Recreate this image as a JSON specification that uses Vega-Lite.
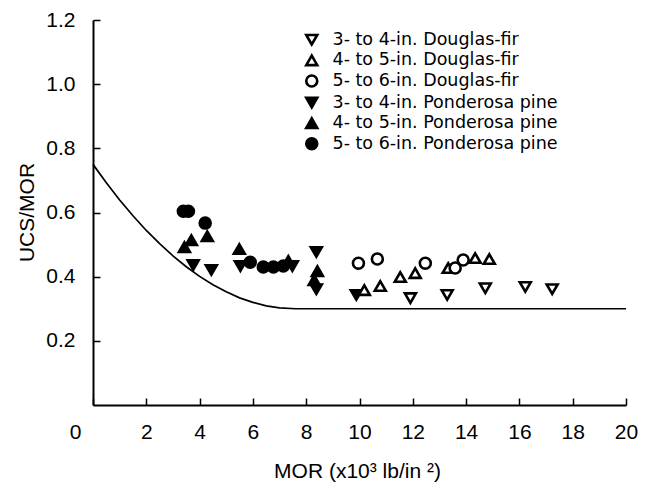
{
  "$schema": "https://vega.github.io/schema/vega-lite/v6.json",
  "autosize": {"type": "none"},
  "width": 533,
  "height": 385,
  "padding": {"left": 93, "top": 20, "right": 30, "bottom": 84},
  "background": "white",
  "config": {
    "view": {"stroke": null},
    "font": "Liberation Sans"
  },
  "datasets": {
    "curve": [
      {"mor": 0, "ratio": 0.75},
      {"mor": 0.5, "ratio": 0.693},
      {"mor": 1, "ratio": 0.639},
      {"mor": 1.5, "ratio": 0.59},
      {"mor": 2, "ratio": 0.544},
      {"mor": 2.5, "ratio": 0.503},
      {"mor": 3, "ratio": 0.465},
      {"mor": 3.5, "ratio": 0.431},
      {"mor": 4, "ratio": 0.401},
      {"mor": 4.5, "ratio": 0.375},
      {"mor": 5, "ratio": 0.353},
      {"mor": 5.5, "ratio": 0.334},
      {"mor": 6, "ratio": 0.32},
      {"mor": 6.5, "ratio": 0.309},
      {"mor": 7, "ratio": 0.303},
      {"mor": 7.6, "ratio": 0.3},
      {"mor": 20, "ratio": 0.3}
    ],
    "pts": [
      {"s": "3- to 4-in. Douglas-fir", "mor": 11.91, "ratio": 0.333},
      {"s": "3- to 4-in. Douglas-fir", "mor": 13.29, "ratio": 0.343},
      {"s": "3- to 4-in. Douglas-fir", "mor": 14.72, "ratio": 0.364},
      {"s": "3- to 4-in. Douglas-fir", "mor": 16.22, "ratio": 0.368},
      {"s": "3- to 4-in. Douglas-fir", "mor": 17.23, "ratio": 0.361},
      {"s": "3- to 4-in. Ponderosa pine", "mor": 3.76, "ratio": 0.436},
      {"s": "3- to 4-in. Ponderosa pine", "mor": 4.44, "ratio": 0.421},
      {"s": "3- to 4-in. Ponderosa pine", "mor": 5.53, "ratio": 0.433},
      {"s": "3- to 4-in. Ponderosa pine", "mor": 7.48, "ratio": 0.433},
      {"s": "3- to 4-in. Ponderosa pine", "mor": 8.38, "ratio": 0.477},
      {"s": "3- to 4-in. Ponderosa pine", "mor": 8.38, "ratio": 0.361},
      {"s": "3- to 4-in. Ponderosa pine", "mor": 9.88, "ratio": 0.343},
      {"s": "4- to 5-in. Ponderosa pine", "mor": 3.43, "ratio": 0.492},
      {"s": "4- to 5-in. Ponderosa pine", "mor": 3.69, "ratio": 0.514},
      {"s": "4- to 5-in. Ponderosa pine", "mor": 4.29, "ratio": 0.526},
      {"s": "4- to 5-in. Ponderosa pine", "mor": 5.49, "ratio": 0.486},
      {"s": "4- to 5-in. Ponderosa pine", "mor": 7.33, "ratio": 0.449},
      {"s": "4- to 5-in. Ponderosa pine", "mor": 8.42, "ratio": 0.417},
      {"s": "4- to 5-in. Ponderosa pine", "mor": 8.3, "ratio": 0.389},
      {"s": "5- to 6-in. Ponderosa pine", "mor": 3.39, "ratio": 0.604},
      {"s": "5- to 6-in. Ponderosa pine", "mor": 3.58, "ratio": 0.604},
      {"s": "5- to 6-in. Ponderosa pine", "mor": 4.21, "ratio": 0.567},
      {"s": "5- to 6-in. Ponderosa pine", "mor": 5.9, "ratio": 0.445},
      {"s": "5- to 6-in. Ponderosa pine", "mor": 6.39, "ratio": 0.43},
      {"s": "5- to 6-in. Ponderosa pine", "mor": 6.77, "ratio": 0.43},
      {"s": "5- to 6-in. Ponderosa pine", "mor": 7.14, "ratio": 0.433},
      {"s": "4- to 5-in. Douglas-fir", "mor": 10.18, "ratio": 0.358},
      {"s": "4- to 5-in. Douglas-fir", "mor": 10.78, "ratio": 0.371},
      {"s": "4- to 5-in. Douglas-fir", "mor": 11.53, "ratio": 0.399},
      {"s": "4- to 5-in. Douglas-fir", "mor": 12.09, "ratio": 0.411},
      {"s": "4- to 5-in. Douglas-fir", "mor": 13.33, "ratio": 0.427},
      {"s": "4- to 5-in. Douglas-fir", "mor": 14.34, "ratio": 0.458},
      {"s": "4- to 5-in. Douglas-fir", "mor": 14.87, "ratio": 0.455},
      {"s": "5- to 6-in. Douglas-fir", "mor": 9.96, "ratio": 0.442},
      {"s": "5- to 6-in. Douglas-fir", "mor": 10.67, "ratio": 0.455},
      {"s": "5- to 6-in. Douglas-fir", "mor": 12.47, "ratio": 0.442},
      {"s": "5- to 6-in. Douglas-fir", "mor": 13.59, "ratio": 0.427},
      {"s": "5- to 6-in. Douglas-fir", "mor": 13.89, "ratio": 0.452}
    ]
  },
  "encoding": {
    "x": {
      "field": "mor", "type": "quantitative",
      "scale": {"domain": [0, 20], "nice": false, "zero": false},
      "axis": {
        "values": [0, 2, 4, 6, 8, 10, 12, 14, 16, 18, 20],
        "grid": false,
        "tickSize": -7,
        "tickWidth": 1.5,
        "tickColor": "black",
        "domainColor": "black",
        "domainWidth": 2,
        "labelFontSize": 21,
        "labelColor": "black",
        "labelPadding": 23,
        "labelFlush": false,
        "labelAlign": {"condition": {"test": "datum.value == 0", "value": "right"}, "value": "center"},
        "labelOffset": {"condition": {"test": "datum.value == 0", "value": -12}, "value": 0},
        "title": "MOR (x10³ lb/in ²)",
        "titleFontSize": 21,
        "titleFontWeight": "normal",
        "titleColor": "black",
        "titleX": 264,
        "titleY": 66,
        "titleBaseline": "middle"
      }
    },
    "y": {
      "field": "ratio", "type": "quantitative",
      "scale": {"domain": [0, 1.2], "nice": false},
      "axis": {
        "values": [0.2, 0.4, 0.6, 0.8, 1.0, 1.2],
        "format": ".1f",
        "grid": false,
        "tickSize": -7,
        "tickWidth": 1.5,
        "tickColor": "black",
        "domainColor": "black",
        "domainWidth": 2,
        "labelFontSize": 21,
        "labelColor": "black",
        "labelPadding": 25,
        "labelFlush": false,
        "title": "UCS/MOR",
        "titleFontSize": 21,
        "titleFontWeight": "normal",
        "titleColor": "black",
        "titleX": -66,
        "titleY": 192,
        "titleBaseline": "middle"
      }
    }
  },
  "layer": [
    {
      "data": {"name": "curve"},
      "mark": {"type": "line", "color": "black", "strokeWidth": 1.7},
      "encoding": {}
    },
    {
      "data": {"name": "pts"},
      "mark": {"type": "point", "filled": true, "stroke": "black", "strokeWidth": 2.6, "opacity": 1},
      "encoding": {
        "shape": {
          "field": "s", "type": "nominal",
          "scale": {
            "domain": ["3- to 4-in. Douglas-fir", "4- to 5-in. Douglas-fir", "5- to 6-in. Douglas-fir", "3- to 4-in. Ponderosa pine", "4- to 5-in. Ponderosa pine", "5- to 6-in. Ponderosa pine"],
            "range": ["triangle-down", "triangle-up", "circle", "triangle-down", "triangle-up", "circle"]
          },
          "legend": {
            "title": null,
            "orient": "none",
            "legendX": 210,
            "legendY": 11,
            "padding": 0,
            "labelFontSize": 17.5,
            "labelFont": "DejaVu Sans",
            "labelColor": "black",
            "labelOffset": 12,
            "rowPadding": -0.4,
            "symbolStrokeWidth": 2.6,
            "labelLimit": 400
          }
        },
        "fill": {
          "field": "s", "type": "nominal",
          "scale": {
            "domain": ["3- to 4-in. Douglas-fir", "4- to 5-in. Douglas-fir", "5- to 6-in. Douglas-fir", "3- to 4-in. Ponderosa pine", "4- to 5-in. Ponderosa pine", "5- to 6-in. Ponderosa pine"],
            "range": ["white", "white", "white", "black", "black", "black"]
          }
        },
        "size": {
          "field": "s", "type": "nominal",
          "scale": {
            "domain": ["3- to 4-in. Douglas-fir", "4- to 5-in. Douglas-fir", "5- to 6-in. Douglas-fir", "3- to 4-in. Ponderosa pine", "4- to 5-in. Ponderosa pine", "5- to 6-in. Ponderosa pine"],
            "range": [120, 120, 85, 170, 170, 150]
          }
        }
      }
    }
  ]
}
